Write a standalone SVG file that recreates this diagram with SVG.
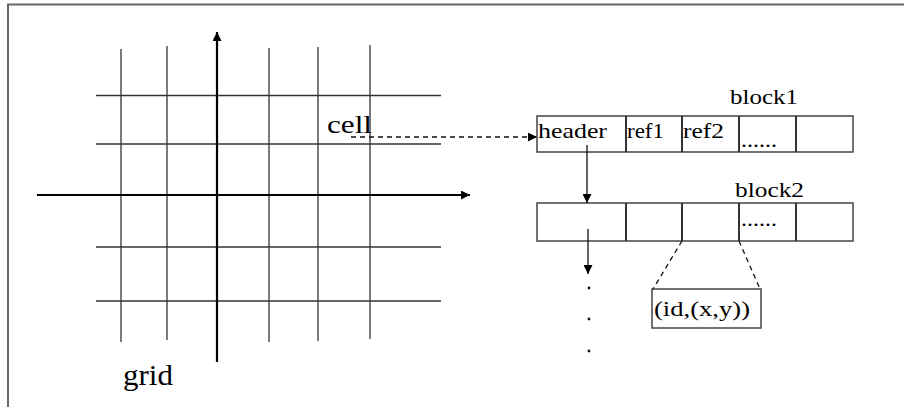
<svg xmlns="http://www.w3.org/2000/svg" width="904" height="407" viewBox="0 0 904 407">
<defs>
<style>
.t{font-family:"Liberation Serif","Times New Roman",serif;fill:#000}
.g{stroke:#333;stroke-width:1.3;fill:none}
.ax{stroke:#000;stroke-width:2.2;fill:none}
.box{fill:#fff;stroke:#444;stroke-width:1.5}
.div{stroke:#333;stroke-width:2}
.dash{stroke:#111;stroke-width:1.3;stroke-dasharray:5 4;fill:none}
.con{stroke:#111;stroke-width:1.3;fill:none}
</style>
<marker id="ah" viewBox="0 0 10 10" refX="10" refY="5" markerWidth="10" markerHeight="9" markerUnits="userSpaceOnUse" orient="auto">
<path d="M0,0 L10,5 L0,10 z" fill="#000"/>
</marker>
</defs>
<rect width="904" height="407" fill="#fff"/>
<g id="frame">
<line x1="7" y1="4.5" x2="904" y2="4.5" stroke="#666" stroke-width="2"/>
<line x1="8" y1="4" x2="8" y2="407" stroke="#666" stroke-width="2"/>
</g>
<g id="grid">
<line class="g" x1="121" y1="49" x2="121" y2="342"/>
<line class="g" x1="167" y1="46" x2="167" y2="340"/>
<line class="g" x1="269" y1="48" x2="269" y2="342"/>
<line class="g" x1="318" y1="47" x2="318" y2="341"/>
<line class="g" x1="370" y1="45" x2="370" y2="339"/>
<line class="g" x1="96" y1="95.5" x2="441" y2="95.5"/>
<line class="g" x1="96" y1="144" x2="441" y2="144"/>
<line class="g" x1="96" y1="247" x2="441" y2="247"/>
<line class="g" x1="96" y1="301" x2="441" y2="301"/>
<line class="ax" x1="217" y1="362" x2="217" y2="32" marker-end="url(#ah)"/>
<line class="ax" x1="37" y1="195" x2="470" y2="195" marker-end="url(#ah)"/>
<text class="t" x="327" y="133" font-size="25" textLength="45" lengthAdjust="spacingAndGlyphs">cell</text>
<text class="t" x="123" y="385" font-size="29" textLength="50" lengthAdjust="spacingAndGlyphs">grid</text>
</g>
<g id="block1">
<rect class="box" x="537" y="116" width="316" height="36"/>
<line class="div" x1="626" y1="116" x2="626" y2="152"/>
<line class="div" x1="682" y1="116" x2="682" y2="152"/>
<line class="div" x1="739" y1="116" x2="739" y2="152"/>
<line class="div" x1="796" y1="116" x2="796" y2="152"/>
<text class="t" x="538" y="138" font-size="22" textLength="69" lengthAdjust="spacingAndGlyphs">header</text>
<text class="t" x="627" y="138" font-size="22" textLength="37" lengthAdjust="spacingAndGlyphs">ref1</text>
<text class="t" x="683" y="138" font-size="22" textLength="41" lengthAdjust="spacingAndGlyphs">ref2</text>
<text class="t" x="741" y="147" font-size="20" textLength="36" lengthAdjust="spacingAndGlyphs">......</text>
<text class="t" x="730" y="104" font-size="21" textLength="68" lengthAdjust="spacingAndGlyphs">block1</text>
</g>
<g id="block2">
<rect class="box" x="537" y="203" width="316" height="38"/>
<line class="div" x1="626" y1="203" x2="626" y2="241"/>
<line class="div" x1="682" y1="203" x2="682" y2="241"/>
<line class="div" x1="739" y1="203" x2="739" y2="241"/>
<line class="div" x1="796" y1="203" x2="796" y2="241"/>
<text class="t" x="741" y="226" font-size="20" textLength="36" lengthAdjust="spacingAndGlyphs">......</text>
<text class="t" x="735" y="197" font-size="21" textLength="69" lengthAdjust="spacingAndGlyphs">block2</text>
</g>
<g id="entry">
<rect class="box" x="652" y="289" width="109" height="39"/>
<text class="t" x="654" y="316" font-size="22" textLength="96" lengthAdjust="spacingAndGlyphs">(id,(x,y))</text>
</g>
<g id="more">
<circle cx="589" cy="288" r="1.4" fill="#111"/>
<circle cx="589" cy="319" r="1.4" fill="#111"/>
<circle cx="589" cy="351" r="1.4" fill="#111"/>
</g>
<g id="connectors">
<line class="dash" x1="351" y1="137" x2="537" y2="137" marker-end="url(#ah)"/>
<line class="con" x1="587" y1="145" x2="587" y2="203" marker-end="url(#ah)"/>
<line class="con" x1="588" y1="229" x2="588" y2="274" marker-end="url(#ah)"/>
<line class="dash" x1="682" y1="241" x2="653" y2="289"/>
<line class="dash" x1="739" y1="241" x2="760" y2="289"/>
</g>
</svg>
